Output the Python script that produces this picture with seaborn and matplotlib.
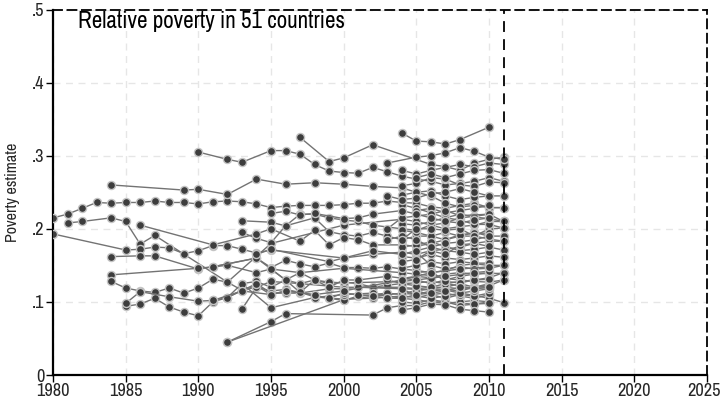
import matplotlib
matplotlib.use("Agg")
import matplotlib.pyplot as plt
from matplotlib import font_manager
from matplotlib.transforms import ScaledTranslation
import seaborn as sns
import pandas as pd

# ---------------- data ----------------
c01_y = list(range(1980, 2012))
c01_v = [.215, .220, .228, .236, .235, .236, .236, .238, .236, .236, .234, .237, .238, .237, .234, .229,
         .231, .232, .232, .232, .233, .235, .235, .238, .236, .235, .230, .228, .232, .235, .229, .229]
c02_y = [1981, 1982, 1984, 1985, 1986, 1987, 1992, 1995, 2000, 2004, 2005, 2006, 2007, 2008, 2009, 2010, 2011]
c02_v = [.208, .210, .215, .210, .179, .191, .127, .180, .205, .213, .210, .205, .208, .215, .217, .220, .210]
c03_y = [1980, 1985, 1986, 1987, 1988, 1989, 1990, 1991, 1992, 1993, 1994, 1995, 2000, 2002, 2004, 2005, 2006, 2007, 2008, 2009, 2010, 2011]
c03_v = [.193, .171, .172, .175, .174, .166, .170, .177, .177, .172, .167, .171, .160, .165, .168, .165, .170, .172, .175, .180, .183, .183]
c04_y = [1984, 1986, 1987, 1990, 1991, 1994, 1995, 1996, 1997, 1998, 1999, 2000, 2001, 2002, 2003, 2004, 2005, 2006, 2007, 2008, 2009, 2010, 2011]
c04_v = [.162, .163, .163, .145, .148, .160, .147, .157, .152, .148, .153, .147, .147, .146, .148, .145, .143, .140, .143, .150, .152, .150, .150]
c05_y = [1984, 1989, 1990, 1992, 1994, 1996, 1998, 2000, 2002, 2004, 2005, 2006, 2007, 2008, 2009, 2010, 2011]
c05_v = [.260, .253, .254, .247, .268, .261, .263, .261, .258, .256, .250, .252, .245, .240, .243, .245, .245]
c06_y = [1984, 1990, 1992, 1994, 1995, 1997, 2000, 2004, 2005, 2006, 2007, 2008, 2009, 2010, 2011]
c06_v = [.137, .146, .150, .140, .145, .140, .146, .140, .138, .136, .132, .130, .128, .127, .130]
c07_y = list(range(1984, 2012))
c07_v = [.128, .119, .115, .113, .119, .112, .119, .131, .127, .116, .120, .115, .117, .113, .107, .105,
         .102, .108, .110, .112, .110, .115, .118, .120, .118, .120, .122, .130]
c08_y = [1985, 1986, 1987, 1988, 1989, 1990, 1991, 1992, 1993, 1994, 1995, 1996, 1997, 1999, 2000, 2002, 2004, 2005, 2006, 2007, 2008, 2009, 2010]
c08_v = [.094, .097, .105, .093, .086, .081, .100, .106, .116, .122, .110, .115, .113, .105, .104, .105, .108, .106, .110, .112, .108, .105, .110]
c09_y = [1985, 1986, 1988, 1990, 1991, 1992, 1993, 1994, 1995, 1996, 1997, 1998, 1999, 2000, 2001, 2002, 2003, 2004, 2005, 2006, 2007, 2008, 2009, 2010, 2011]
c09_v = [.098, .114, .107, .101, .102, .106, .125, .128, .120, .130, .125, .130, .125, .127, .125, .120, .123, .125, .126, .128, .125, .128, .130, .133, .140]
c10_y = [1990, 1992, 1993, 1995, 1996, 1997, 1998, 1999, 2000, 2001, 2002, 2003, 2004, 2005, 2006, 2007, 2008, 2009, 2010, 2011]
c10_v = [.305, .295, .291, .307, .307, .302, .288, .279, .277, .276, .284, .278, .272, .268, .265, .260, .262, .265, .270, .265]
c11_y = [1997, 1999, 2000, 2002, 2006, 2007, 2008, 2009, 2010, 2011]
c11_v = [.325, .292, .297, .315, .288, .285, .280, .290, .295, .298]
c12_y = [1992, 1995, 1996, 2002, 2003, 2004, 2005, 2006, 2007, 2008, 2009, 2010]
c12_v = [.045, .073, .084, .082, .092, .095, .095, .100, .100, .098, .097, .100]
c13_y = [1992, 2000, 2004, 2005, 2006, 2007, 2008, 2009, 2010]
c13_v = [.045, .103, .112, .110, .115, .117, .115, .120, .125]
c14_y = [1993, 1995, 1996, 1997, 1998, 1999, 2000, 2001, 2002, 2004, 2005, 2006, 2007, 2008, 2009, 2010, 2011]
c14_v = [.211, .209, .204, .220, .220, .215, .212, .210, .205, .200, .198, .205, .200, .203, .205, .210, .210]
c15_y = [1993, 1994, 1995, 1996, 1998, 1999, 2000, 2001, 2002, 2003, 2004, 2005, 2006, 2007, 2008, 2009, 2010, 2011]
c15_v = [.195, .187, .181, .204, .215, .196, .192, .190, .195, .190, .185, .190, .190, .195, .190, .190, .200, .201]
c16_y = [1993, 1994, 1995, 1997, 2000, 2004, 2005, 2006, 2007, 2008, 2009, 2010]
c16_v = [.090, .120, .128, .125, .120, .120, .118, .120, .120, .125, .120, .123]
c17_y = [1986, 1991, 1994, 1995, 1997, 1998, 1999, 2000, 2001, 2002, 2004, 2005, 2006, 2007, 2008, 2009, 2010, 2011]
c17_v = [.205, .178, .193, .200, .183, .198, .178, .188, .185, .178, .178, .176, .180, .185, .190, .195, .190, .190]
c18_y = [1991, 1994, 1995, 1996, 1997, 1998, 1999, 2000, 2004, 2005, 2006, 2007, 2008, 2009, 2010]
c18_v = [.148, .160, .145, .130, .140, .130, .127, .126, .128, .130, .125, .130, .135, .138, .140]
c19_y = [1993, 1995, 1998, 2000, 2002, 2004, 2005, 2006, 2007, 2008, 2009, 2010]
c19_v = [.125, .092, .106, .110, .112, .105, .103, .100, .098, .100, .102, .100]
c20_y = [1992, 1994, 1995, 1996, 1997, 1999, 2000, 2001, 2004, 2007, 2010, 2011]
c20_v = [.106, .125, .112, .112, .112, .118, .118, .120, .118, .116, .105, .099]

y0411 = list(range(2004, 2012))
y0410 = list(range(2004, 2011))
y0511 = list(range(2005, 2012))
y0510 = list(range(2005, 2011))
y0310 = list(range(2003, 2011))

l01_v = [.280, .275, .280, .284, .288, .285, .290, .288]
l02_v = [.259, .262, .270, .268, .260, .258, .264, .263]
l03_v = [.246, .250, .245, .235, .230, .232, .229, .229]
l04_v = [.233, .228, .222, .215, .220, .216, .214, .210]
l05_v = [.207, .205, .210, .215, .212, .206, .206, .201]
l06_v = [.198, .195, .190, .185, .192, .194, .194]
l07_v = [.175, .178, .182, .176, .170, .172, .175, .171]
l08_v = [.162, .160, .165, .160, .158, .160, .163, .161]
l09_v = [.146, .150, .155, .152, .155, .153, .153]
l10_v = [.132, .135, .133, .138, .140, .138, .139, .139]
l11_v = [.112, .115, .110, .105, .110, .108, .112]
l12_v = [.100, .098, .103, .100, .095, .097, .098]
l13_v = [.089, .092, .097, .096, .090, .088, .086]
l14_y = [2004, 2005, 2006, 2007, 2008, 2010]
l14_v = [.331, .320, .319, .316, .322, .339]
l15_y = [2003, 2005, 2006, 2007, 2008, 2009, 2010, 2011]
l15_v = [.290, .298, .300, .304, .311, .306, .298, .295]
l16_v = [.270, .275, .270, .275, .280, .281, .276]
l17_v = [.245, .240, .242, .248, .250, .255, .250, .245]
l18_v = [.225, .228, .222, .225, .228, .232]
l19_v = [.185, .190, .185, .175, .170, .168, .165, .168]
l20_v = [.168, .150, .145, .148, .145, .146, .150]
l21_v = [.130, .125, .122, .120, .125, .122, .118, .120]
l22_v = [.118, .108, .105, .108, .112, .115, .118]
l23_v = [.140, .142, .128, .126, .130, .131]
l24_y = [2003, 2004, 2006, 2007, 2008, 2010]
l24_v = [.200, .215, .220, .225, .218, .220]
l25_v = [.185, .200, .200, .198, .200, .190, .186, .183]
l26_v = [.155, .158, .170, .165, .178, .180, .176]

m01_y = [1995, 1996, 1997, 1998, 2000, 2001, 2002, 2004, 2005, 2006, 2007, 2008, 2009, 2010]
m01_v = [.221, .224, .219, .221, .214, .215, .220, .225, .220, .215, .210, .208, .212, .215]
m02_y = [1994, 1995, 1999, 2000, 2002, 2004, 2005, 2006, 2007, 2008, 2009, 2010]
m02_v = [.165, .172, .155, .160, .170, .165, .170, .175, .180, .182, .185, .190]
m03_y = [1995, 1996, 1997, 1998, 1999, 2000, 2001, 2003, 2005, 2007, 2009, 2010]
m03_v = [.145, .130, .113, .130, .120, .130, .130, .135, .130, .135, .140, .142]
m04_y = [1999, 2000, 2001, 2002, 2003, 2004, 2005, 2006, 2007, 2008, 2009, 2010]
m04_v = [.105, .112, .110, .108, .105, .105, .110, .112, .115, .120, .118, .120]
m05_y = [1991, 1993, 1995, 1996, 1998, 2000, 2004, 2006, 2008, 2010]
m05_v = [.102, .115, .110, .115, .110, .115, .130, .140, .145, .148]

x_ticks = [1980, 1985, 1990, 1995, 2000, 2005, 2010, 2015, 2020, 2025]
y_ticks = [0, .1, .2, .3, .4, .5]
y_tick_labels = ["0", ".1", ".2", ".3", ".4", ".5"]
cutoff_year = 2011
title_text = "Relative poverty in 51 countries"
y_label = "Poverty estimate"

series = [
    (c01_y, c01_v), (c02_y, c02_v), (c03_y, c03_v), (c04_y, c04_v), (c05_y, c05_v),
    (c06_y, c06_v), (c07_y, c07_v), (c08_y, c08_v), (c09_y, c09_v), (c10_y, c10_v),
    (c11_y, c11_v), (c12_y, c12_v), (c13_y, c13_v), (c14_y, c14_v), (c15_y, c15_v),
    (c16_y, c16_v), (c17_y, c17_v), (c18_y, c18_v), (c19_y, c19_v), (c20_y, c20_v),
    (y0411, l01_v), (y0411, l02_v), (y0411, l03_v), (y0411, l04_v), (y0411, l05_v),
    (y0410, l06_v), (y0411, l07_v), (y0411, l08_v), (y0410, l09_v), (y0411, l10_v),
    (y0410, l11_v), (y0410, l12_v), (y0410, l13_v), (l14_y, l14_v), (l15_y, l15_v),
    (y0511, l16_v), (y0310, l17_v), (y0510, l18_v), (y0310, l19_v), (y0511, l20_v),
    (y0310, l21_v), (y0410, l22_v), (y0510, l23_v), (l24_y, l24_v), (y0411, l25_v),
    (y0410, l26_v), (m01_y, m01_v), (m02_y, m02_v), (m03_y, m03_v), (m04_y, m04_v),
    (m05_y, m05_v),
]

rows = []
for i, (yrs, vals) in enumerate(series):
    for yr, v in zip(yrs, vals):
        rows.append({"country": f"C{i + 1:02d}", "year": yr, "pov": v})
df = pd.DataFrame(rows)

# ---------------- plotting ----------------
sns.set_theme(style="white")
installed = sorted({f.name for f in font_manager.fontManager.ttflist})
condensed = [n for n in installed if ("Narrow" in n or "Condensed" in n) and "Mono" not in n]
narrow = len(condensed) > 0
plt.rcParams["font.family"] = condensed[:1] + ["Liberation Sans", "DejaVu Sans"]
tick_fs = 13.2 if narrow else 11.0
title_fs = 16.6 if narrow else 14
ylab_fs = 11.6 if narrow else 10

fig = plt.figure(figsize=(7.22, 4.00), dpi=100)
ax = fig.add_axes([53 / 722, 25 / 400, 654 / 722, 365.5 / 400])

for x in x_ticks:
    ax.axvline(x, color="#e6e6e6", lw=1.0, ls=(0, (5, 4)), zorder=0)
for y in y_ticks:
    ax.axhline(y, color="#e6e6e6", lw=1.0, ls=(0, (5, 4)), zorder=0)

sns.lineplot(data=df, x="year", y="pov", units="country", estimator=None,
             color="#737373", lw=1.0, marker="o", markersize=5.8,
             markerfacecolor="#3d3d3d", markeredgecolor="#c4c4c4", markeredgewidth=1.0,
             legend=False, ax=ax, zorder=3)

ax.axvline(cutoff_year, color="black", lw=1.3, ls=(0, (6, 4)), zorder=4)

ax.set_xlim(1980, 2025)
ax.set_ylim(0, 0.5)
ax.set_xticks(x_ticks)
ax.set_yticks(y_ticks)
ax.set_yticklabels(y_tick_labels)
ax.set_xlabel("")
ax.set_ylabel(y_label, fontsize=ylab_fs, labelpad=9)
ax.tick_params(axis="both", which="major", direction="out", length=5, width=1,
               color="black", labelsize=tick_fs, pad=1, bottom=True, left=True)

# keep the last x label inside the figure
fig.canvas.draw()
last = ax.get_xticklabels()[-1]
shift_px = 3 if narrow else 5
last.set_transform(last.get_transform() + ScaledTranslation(-shift_px / 100, 0, fig.dpi_scale_trans))

for side in ["left", "bottom"]:
    ax.spines[side].set_color("black")
    ax.spines[side].set_linewidth(1.6)
for side in ["top", "right"]:
    ax.spines[side].set_color("black")
    ax.spines[side].set_linewidth(1.3)
    ax.spines[side].set_linestyle((0, (5, 3)))

ax.text(0.038, 0.997, title_text, transform=ax.transAxes, ha="left", va="top",
        fontsize=title_fs, color="black")

fig.savefig("out.png", dpi=100)
